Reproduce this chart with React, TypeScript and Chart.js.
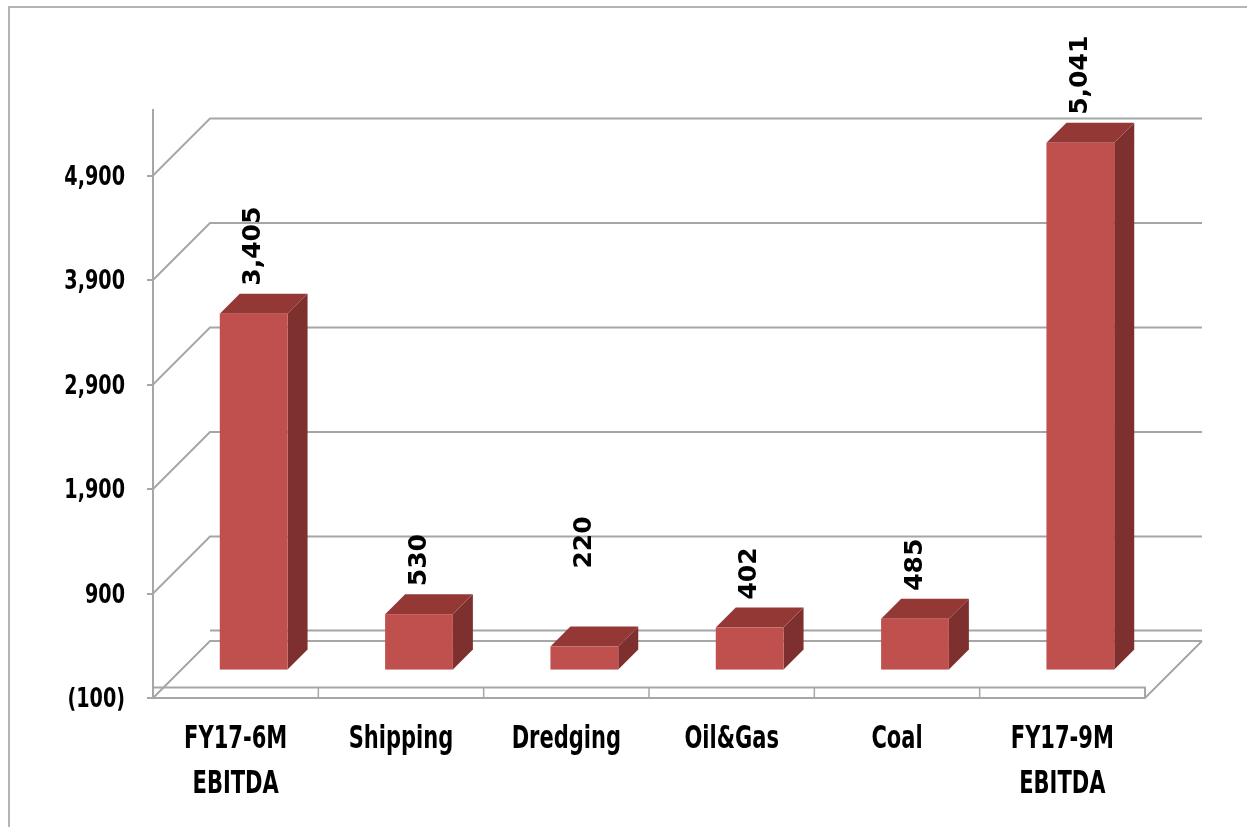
import React, { useEffect, useRef } from "react";
import { Chart, registerables } from "chart.js";

Chart.register(...registerables);

const categories: (string | string[])[] = [
  ["FY17-6M", "EBITDA"],
  "Shipping",
  "Dredging",
  "Oil&Gas",
  "Coal",
  ["FY17-9M", "EBITDA"],
];
const values: number[] = [3405, 530, 220, 402, 485, 5041];
const yTicks: number[] = [-100, 900, 1900, 2900, 3900, 4900];
const yMin = -100;
const yMax = 5527;

const GRID = "#A6A6A6";
const FRONT = "#C0504D";
const SIDE = "#7E302E";
const TOP = "#943836";
const narrowFont = '"Liberation Sans Narrow", "DejaVu Sans Condensed", sans-serif';

const DEPTH = 57; // wall depth in px
const BAR_OFF = 18; // bar front offset into depth
const BAR_D = 20; // bar depth
const labelLift: Record<number, number> = { 2: 50 };

const fmt = (v: number) => (v < 0 ? `(${Math.abs(v).toLocaleString("en-US")})` : v.toLocaleString("en-US"));

const threeD = {
  id: "threeD",
  beforeDraw(chart: any) {
    const ctx = chart.ctx;
    ctx.save();
    ctx.strokeStyle = "#B4B4B4";
    ctx.lineWidth = 2;
    ctx.beginPath();
    ctx.moveTo(9, chart.height);
    ctx.lineTo(9, 7);
    ctx.lineTo(chart.width, 7);
    ctx.stroke();
    ctx.restore();
  },
  beforeDatasetsDraw(chart: any) {
    const ctx = chart.ctx;
    const ys = chart.scales.y;
    const xs = chart.scales.x;
    const { left: L, right: R } = chart.chartArea;
    const D = DEPTH;
    ctx.save();
    ctx.strokeStyle = GRID;
    ctx.lineWidth = 2;
    for (const t of yTicks) {
      const y0 = ys.getPixelForValue(t);
      ctx.beginPath();
      ctx.moveTo(L, y0);
      ctx.lineTo(L + D, y0 - D);
      ctx.lineTo(R + D, y0 - D);
      ctx.stroke();
    }
    const yb = ys.getPixelForValue(yMin);
    const yt = ys.getPixelForValue(0);
    ctx.beginPath();
    ctx.moveTo(L, yt);
    ctx.lineTo(R, yt);
    ctx.lineTo(R, yb);
    ctx.moveTo(L, yb);
    ctx.lineTo(R, yb);
    ctx.lineTo(R + D, yb - D);
    ctx.moveTo(L + D, yt - D);
    ctx.lineTo(R + D, yt - D);
    ctx.stroke();
    ctx.lineWidth = 1.5;
    for (let i = 1; i < categories.length; i++) {
      const xb = (xs.getPixelForValue(i - 1) + xs.getPixelForValue(i)) / 2;
      ctx.beginPath();
      ctx.moveTo(xb, yt);
      ctx.lineTo(xb, yb);
      ctx.stroke();
    }
    ctx.restore();
  },
  afterDatasetsDraw(chart: any) {
    const ctx = chart.ctx;
    const meta = chart.getDatasetMeta(0);
    ctx.save();
    meta.data.forEach((bar: any, i: number) => {
      const { x, y, base, width } = bar.getProps(["x", "y", "base", "width"], true);
      const fx = x - width / 2 + BAR_OFF;
      const fr = x + width / 2 + BAR_OFF;
      const ft = y - BAR_OFF;
      const fb = base - BAR_OFF;
      const d = BAR_D;
      ctx.fillStyle = SIDE;
      ctx.beginPath();
      ctx.moveTo(fr, ft);
      ctx.lineTo(fr + d, ft - d);
      ctx.lineTo(fr + d, fb - d);
      ctx.lineTo(fr, fb);
      ctx.closePath();
      ctx.fill();
      ctx.fillStyle = TOP;
      ctx.beginPath();
      ctx.moveTo(fx, ft);
      ctx.lineTo(fx + d, ft - d);
      ctx.lineTo(fr + d, ft - d);
      ctx.lineTo(fr, ft);
      ctx.closePath();
      ctx.fill();
      ctx.fillStyle = FRONT;
      ctx.fillRect(fx, ft, fr - fx, fb - ft);
      const lift = labelLift[i] || 0;
      ctx.save();
      ctx.translate(x + BAR_OFF, ft - d - 8 - lift);
      ctx.rotate(-Math.PI / 2);
      ctx.fillStyle = "#000";
      ctx.font = 'bold 25px "DejaVu Sans", sans-serif';
      ctx.textAlign = "left";
      ctx.textBaseline = "middle";
      ctx.fillText(fmt(values[i]), 0, 0);
      ctx.restore();
    });
    ctx.restore();
  },
  afterDraw(chart: any) {
    const ctx = chart.ctx;
    const ys = chart.scales.y;
    const xs = chart.scales.x;
    ctx.save();
    ctx.fillStyle = "#000";
    // y tick labels (condensed)
    ctx.font = `bold 27px ${narrowFont}`;
    ctx.textAlign = "right";
    ctx.textBaseline = "middle";
    ys.ticks.forEach((t: any, i: number) => {
      const py = ys.getPixelForTick(i);
      ctx.save();
      ctx.translate(chart.chartArea.left - 28, py + 2);
      ctx.scale(0.79, 1);
      ctx.fillText(fmt(t.value), 0, 0);
      ctx.restore();
    });
    // x category labels (condensed)
    ctx.font = `bold 32px ${narrowFont}`;
    ctx.textAlign = "center";
    categories.forEach((c, i) => {
      const px = xs.getPixelForTick(i);
      const lines = Array.isArray(c) ? c : [c];
      lines.forEach((ln, j) => {
        ctx.save();
        ctx.translate(px, xs.top + 42 + j * 45);
        ctx.scale(0.73, 1);
        ctx.fillText(ln, 0, 0);
        ctx.restore();
      });
    });
    ctx.restore();
  },
};

export default function App() {
  const ref = useRef<HTMLCanvasElement | null>(null);
  useEffect(() => {
    if (!ref.current) return;
    const chart = new Chart(ref.current, {
      type: "bar",
      data: {
        labels: categories,
        datasets: [
          {
            data: values,
            backgroundColor: "rgba(0,0,0,0)",
            borderWidth: 0,
            barPercentage: 0.41,
            categoryPercentage: 1,
          },
        ],
      },
      options: {
        animation: false,
        responsive: true,
        maintainAspectRatio: false,
        layout: { padding: { top: 110, right: 102, left: 0, bottom: 0 } },
        plugins: { legend: { display: false }, tooltip: { enabled: false }, title: { display: false } },
        scales: {
          x: {
            grid: { display: false, drawTicks: false, tickLength: 0 },
            border: { display: false },
            ticks: { display: false },
            afterFit: (s: any) => {
              s.height = 129;
            },
          },
          y: {
            min: yMin,
            max: yMax,
            grid: { display: true, drawOnChartArea: false, drawTicks: true, tickLength: 6, color: GRID, lineWidth: 2 },
            border: { display: true, color: GRID, width: 2 },
            ticks: { display: false },
            afterBuildTicks: (s: any) => {
              s.ticks = yTicks.map((v) => ({ value: v }));
            },
            afterFit: (s: any) => {
              s.width = 153;
            },
          },
        },
      },
      plugins: [threeD],
    });
    return () => chart.destroy();
  }, []);
  return (
    <div style={{ position: "fixed", left: 0, top: 0, width: 1247, height: 827, background: "#fff" }}>
      <canvas ref={ref} />
    </div>
  );
}
